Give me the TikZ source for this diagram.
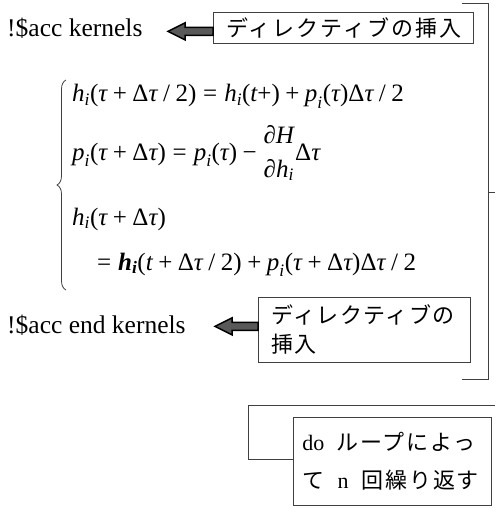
\documentclass[tikz,border=0pt]{standalone}
\usepackage{amsmath}
\usepackage{fontspec}
\setmainfont{Liberation Serif}
\newfontfamily\jpA{Noto Sans CJK JP}[LetterSpace=9]
\newfontfamily\jpB{Noto Sans CJK JP}[LetterSpace=6.5]
\newfontfamily\jpC{Noto Sans CJK JP}[LetterSpace=8]
\usetikzlibrary{decorations.pathreplacing}
\newcommand\Mh{\textit{h}}
\newcommand\Mhb{\textbf{\textit{h}}}
\newcommand\Mp{\textit{p}}
\newcommand\Mt{\textit{t}}
\newcommand\Mtau{\textit{τ}}
\newcommand\MD{\textrm{Δ}}
\newcommand\Msub{\textit{i}}
\newcommand\MH{\textit{H}}
\newcommand\Mpd{\textrm{∂}}
\newcommand\Mop[1]{\mathopen{\textrm{#1}}}
\newcommand\Mcl[1]{\mathclose{\textrm{#1}}}
\newcommand\Mpl{\mathbin{\textrm{+}}}
\newcommand\Mmi{\mathbin{\textrm{−}}}
\newcommand\Meq{\mathrel{\textrm{=}}}
\newcommand\Msl{\mathbin{\textrm{/}}}
\newcommand\Mtwo{\textrm{2}}
\begin{document}
\begin{tikzpicture}[x=1pt,y=-1pt,
  lbl/.style={font=\fontsize{25.5}{30}\selectfont, inner sep=0pt, anchor=base west},
  eqline/.style={font=\fontsize{25}{30}\selectfont, inner sep=0pt, anchor=base west},
  jbox/.style={draw=black!75, line width=0.8pt, anchor=north west, align=left},
  blockarrow/.style={fill=black!65, draw=black, line width=1.5pt, line join=miter},
  rule/.style={draw=black!75, line width=0.8pt}]
\useasboundingbox (0,0) rectangle (495,508);

% right bracket
\draw[rule] (462,3) -- (488,3) -- (488,379) -- (462,379);
\draw[rule] (488,192) -- (495,192);

% top row
\node[lbl] (k1) at (7,37) {!\$acc kernels};
\node[jbox, font=\jpA\fontsize{22}{29}\selectfont, minimum width=260pt, minimum height=31pt, inner xsep=13pt, text width=234pt, inner ysep=0pt] (d1) at (213,12) {ディレクティブの挿入};
\draw[blockarrow] (d1.west) ++(0,-0.5) -- ++(-28,0) -- ++(0,-4.5) -- ++(-17,8.5) -- ++(17,8.5) -- ++(0,-4.5) -- ++(28,0) -- cycle;

% equations
\draw[rule, decorate, decoration={brace, amplitude=9pt}] (66,290) -- (66,80);
\node[eqline] (e1) at (72,102) {$\displaystyle \Mh_{\Msub}\Mop(\Mtau\Mpl\MD\Mtau\Msl\Mtwo\Mcl)\Meq\Mh_{\Msub}\Mop(\Mt\textrm{+}\Mcl)\Mpl\Mp_{\Msub}\Mop(\Mtau\Mcl)\MD\Mtau\Msl\Mtwo$};
\node[eqline] (e2) at (72,160) {$\displaystyle \Mp_{\Msub}\Mop(\Mtau\Mpl\MD\Mtau\Mcl)\Meq\Mp_{\Msub}\Mop(\Mtau\Mcl)\Mmi\genfrac{}{}{0pt}{0}{\Mpd\MH}{\Mpd\Mh_{\Msub}}\MD\Mtau$};
\node[eqline] (e3) at (72,225) {$\displaystyle \Mh_{\Msub}\Mop(\Mtau\Mpl\MD\Mtau\Mcl)$};
\node[eqline] (e4) at (97,270) {$\displaystyle \Meq\Mhb_{\textbf{\textit{i}}}\Mop(\Mt\Mpl\MD\Mtau\Msl\Mtwo\Mcl)\Mpl\Mp_{\Msub}\Mop(\Mtau\Mpl\MD\Mtau\Mcl)\MD\Mtau\Msl\Mtwo$};

% second row
\node[lbl] (k2) at (7,333) {!\$acc end kernels};
\node[jbox, font=\jpB\fontsize{22}{29}\selectfont, minimum width=212pt, minimum height=65pt, inner xsep=13pt, text width=186pt, inner ysep=7pt] (d2) at (258,297) {ディレクティブの\\挿入};
\draw[blockarrow] (d2.west) ++(0,-7.5) -- ++(-26,0) -- ++(0,-4.5) -- ++(-17,8.5) -- ++(17,8.5) -- ++(0,-4.5) -- ++(26,0) -- cycle;

% bottom
\draw[rule] (495,405) -- (248,405) -- (248,459) -- (293,459);
\node[jbox, font=\jpC\fontsize{22}{38}\selectfont, minimum width=198pt, minimum height=88pt, inner xsep=9pt, text width=180pt, inner ysep=14pt] (d3) at (293,417) {{\rmfamily do}\hspace{0.55em}ループによっ\\て\hspace{0.6em}{\rmfamily n}\hspace{0.6em}回繰り返す};
\end{tikzpicture}
\end{document}
